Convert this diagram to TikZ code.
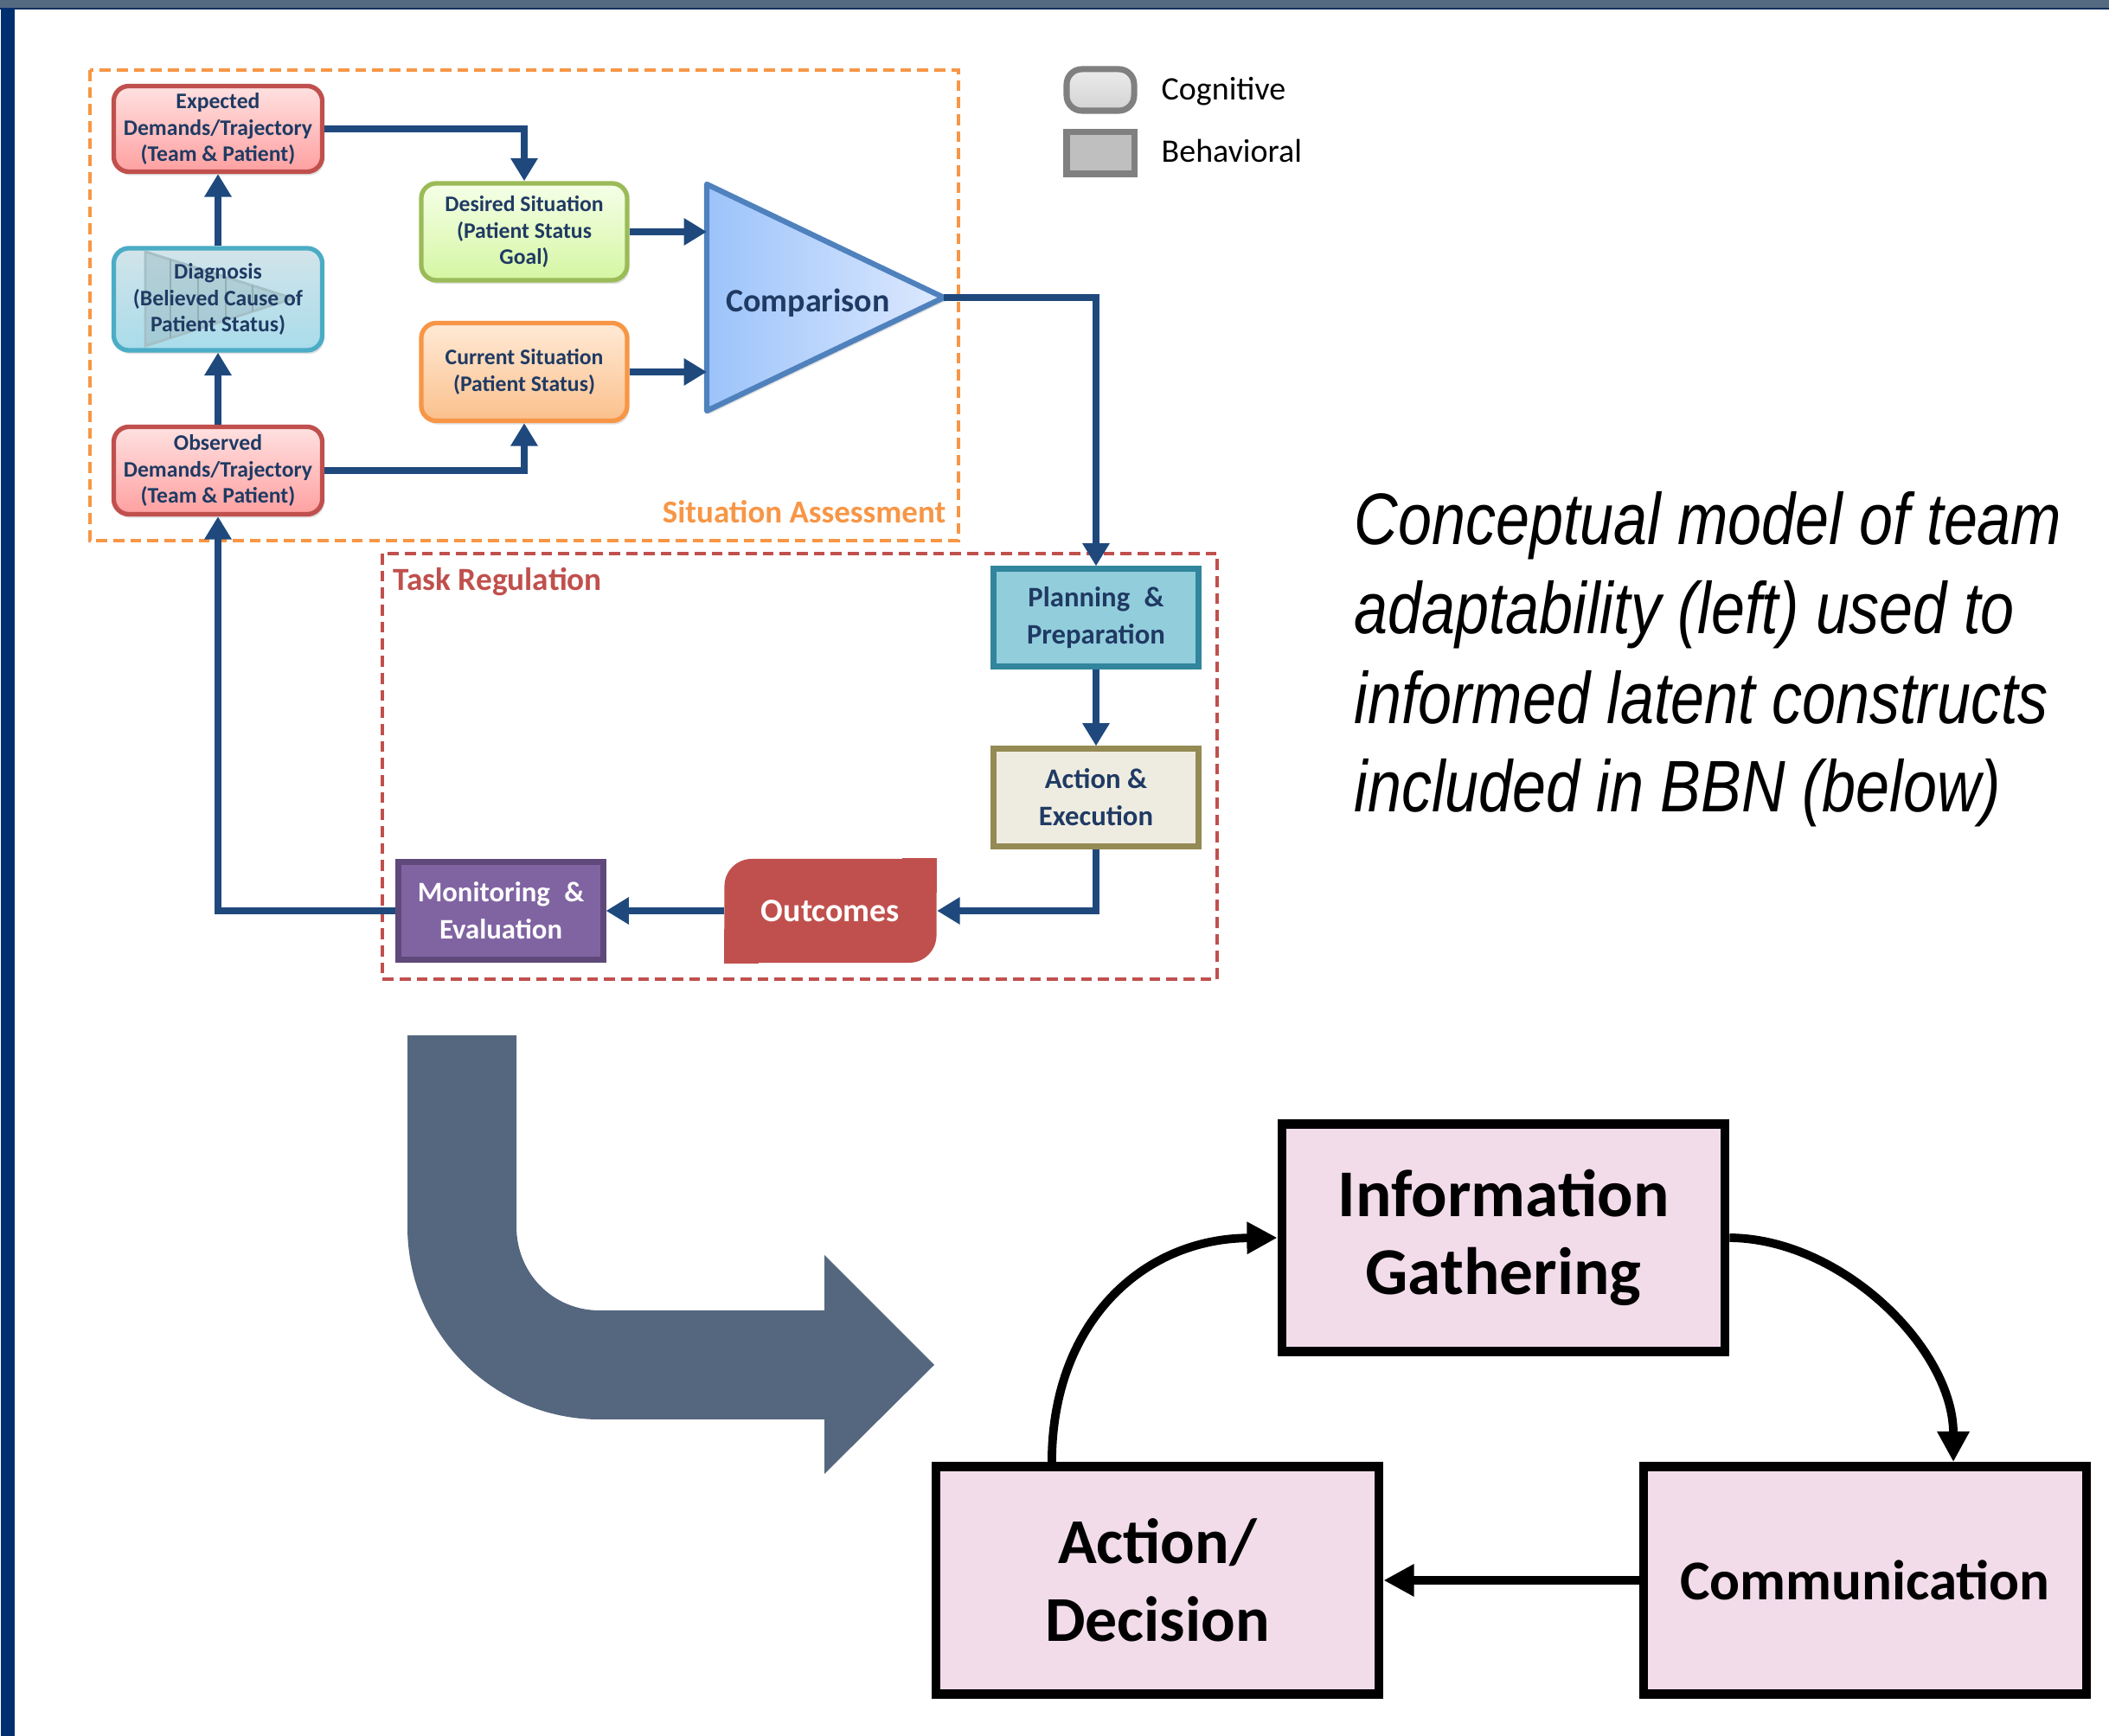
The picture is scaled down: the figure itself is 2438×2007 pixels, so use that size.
\documentclass[tikz,border=0pt]{standalone}
\usepackage{fontspec}
\setmainfont{Carlito}
\newfontfamily\capfont[FakeStretch=0.83]{Liberation Sans}
\usepackage{xcolor}
\usepackage{tikz}
\usetikzlibrary{calc,arrows.meta,shadows}
\definecolor{band}{HTML}{546A80}
\definecolor{bandline}{HTML}{14305E}
\definecolor{sidebar}{HTML}{002F6F}
\definecolor{ink}{HTML}{1F3A63}
\definecolor{flow}{HTML}{1F497D}
\definecolor{saorange}{HTML}{F79646}
\definecolor{trred}{HTML}{C0504D}
\definecolor{exptop}{HTML}{FFE1E1}
\definecolor{expbot}{HTML}{FFA0A0}
\definecolor{diagline}{HTML}{4BACC6}
\definecolor{diagtop}{HTML}{D2E4EA}
\definecolor{diagbot}{HTML}{A9DCEA}
\definecolor{desline}{HTML}{9BBB59}
\definecolor{destop}{HTML}{F5FFE8}
\definecolor{desbot}{HTML}{D5F6A2}
\definecolor{curtop}{HTML}{FFEAD6}
\definecolor{curbot}{HTML}{FBC08C}
\definecolor{cmpline}{HTML}{4F81BD}
\definecolor{cmpleft}{HTML}{9CC3FA}
\definecolor{cmpright}{HTML}{DDE9FE}
\definecolor{planfill}{HTML}{92CDDC}
\definecolor{planline}{HTML}{31859C}
\definecolor{actfill}{HTML}{EEECE1}
\definecolor{actline}{HTML}{948A54}
\definecolor{outfill}{HTML}{C0504D}
\definecolor{monfill}{HTML}{8064A2}
\definecolor{monline}{HTML}{5F497A}
\definecolor{bbnpink}{HTML}{F2DCEA}
\definecolor{bigarrow}{HTML}{55677F}
\definecolor{legline}{HTML}{808080}
\tikzset{
  link/.style={draw=flow, line width=2.4pt, -{Triangle[length=7.5pt,width=8.5pt]}},
  cyc/.style={draw=black, line width=2.8pt, -{Triangle[length=10pt,width=10pt]}},
  grp/.style={line width=1.2pt, dash pattern=on 3.6pt off 2pt},
  sabox/.style={rounded corners=5pt, line width=1.5pt, minimum width=2.41cm, inner sep=1pt,
    align=center, text=ink, font=\bfseries\fontsize{7.3}{8.6}\selectfont,
    drop shadow={opacity=0.25,shadow xshift=0.6pt,shadow yshift=-1.2pt}},
  trbox/.style={line width=2pt, minimum width=2.36cm, minimum height=1.12cm, inner sep=1pt,
    align=center, font=\bfseries\fontsize{9.3}{12.2}\selectfont},
  bbnbox/.style={draw=black, fill=bbnpink, line width=3pt, minimum width=5.12cm,
    minimum height=2.63cm, align=center},
  legbox/.style={draw=legline, line width=2pt, minimum width=0.78cm, minimum height=0.48cm},
  legtxt/.style={anchor=base west, inner sep=0pt, font=\fontsize{10.8}{13}\selectfont},
}

\begin{document}
\begin{tikzpicture}[x=0.01cm, y=-0.01cm]
  \useasboundingbox (0,0) rectangle (2438,2007);
  % frame
  \fill[band] (0,0) rectangle (2438,9);
  \fill[bandline] (0,9) rectangle (2438,11);
  \fill[sidebar] (1,9) rectangle (17,2007);

  % groups
  \draw[grp, draw=saorange] (104,81) rectangle (1108,625);
  \node[anchor=base east, inner sep=0pt, text=saorange, font=\bfseries\fontsize{10.5}{12}\selectfont] (salab) at (1094,605) {Situation Assessment};
  \draw[grp, draw=trred] (442,640) rectangle (1407,1132);
  \node[anchor=base west, inner sep=0pt, text=trred, font=\bfseries\fontsize{10.6}{12}\selectfont] (trlab) at (454,683) {Task Regulation};

  % situation assessment
  \node[sabox, draw=trred, top color=exptop, bottom color=expbot, minimum height=0.99cm] (exp) at (252,149) {Expected\\Demands/Trajectory\\(Team \& Patient)};
  \node[sabox, draw=diagline, top color=diagtop, bottom color=diagbot, minimum height=1.18cm] (diag) at (252,346) {};
  \draw[draw=diagline!45!gray!60, fill=gray!40!diagbot, fill opacity=0.45, line width=0.8pt] (168,291) -- (339,345) -- (168,400) -- cycle;
  \foreach \xx in {197,229,261,292}
    \draw[draw=gray!50!diagbot, line width=0.5pt] (\xx,{291+0.316*(\xx-168)}) -- (\xx,{400-0.322*(\xx-168)});
  \node[align=center, text=ink, font=\bfseries\fontsize{7.3}{8.6}\selectfont] (diagtxt) at (diag) {Diagnosis\\(Believed Cause of\\Patient Status)};
  \node[sabox, draw=trred, top color=exptop, bottom color=expbot, minimum height=1.01cm] (obs) at (252,544) {Observed\\Demands/Trajectory\\(Team \& Patient)};
  \node[sabox, draw=desline, top color=destop, bottom color=desbot, minimum width=2.38cm, minimum height=1.12cm] (des) at (606,268) {Desired Situation\\(Patient Status\\Goal)};
  \node[sabox, draw=saorange, top color=curtop, bottom color=curbot, minimum width=2.38cm, minimum height=1.13cm] (cur) at (606,430) {Current Situation\\(Patient Status)};

  \coordinate (cmptop) at (817,213);
  \coordinate (cmpbot) at (817,475);
  \coordinate (cmptip) at (1091,344);
  \coordinate (cmpin1) at (817,268);
  \coordinate (cmpin2) at (817,430);
  \shadedraw[draw=cmpline, line width=1.8pt, line join=round, left color=cmpleft, right color=cmpright,
    drop shadow={opacity=0.25,shadow xshift=0.6pt,shadow yshift=-1.2pt}] (cmptop) -- (cmptip) -- (cmpbot) -- cycle;
  \node[text=ink, font=\bfseries\fontsize{10.8}{13}\selectfont] (cmp) at (934,350) {Comparison};

  % task regulation
  \node[trbox, draw=planline, fill=planfill, text=ink] (plan) at (1267,714) {Planning\enspace\&\\Preparation};
  \node[trbox, draw=actline, fill=actfill, text=ink] (act) at (1267,922) {Action \&\\Execution};
  \node[fill=outfill, rounded corners=9pt, minimum width=2.45cm, minimum height=1.2cm, text=white,
    font=\bfseries\fontsize{10.8}{13}\selectfont] (out) at (960,1053) {Outcomes};
  \fill[outfill] (out.north east) rectangle ([xshift=-0.4cm,yshift=-0.4cm]out.north east);
  \fill[outfill] (out.south west) rectangle ([xshift=0.4cm,yshift=0.4cm]out.south west);
  \node[trbox, draw=monline, fill=monfill, text=white] (mon) at (579,1053) {Monitoring\enspace\&\\Evaluation};

  \draw[link] (diag.north) -- (exp.south);
  \draw[link] (obs.north) -- (diag.south);
  \draw[link] (exp.east) -| (des.north);
  \draw[link] (obs.east) -| (cur.south);
  \draw[link] (des.east) -- (cmpin1);
  \draw[link] (cur.east) -- (cmpin2);
  \draw[link] (cmptip) -| (plan.north);
  \draw[link] (plan.south) -- (act.north);
  \draw[link] (act.south) |- (out.east);
  \draw[link] (out.west) -- (mon.east);
  \draw[link] (mon.west) -| (obs.south);

  % legend
  \node[legbox, rounded corners=5pt, top color=gray!15, bottom color=gray!35] (cog) at (1272,104) {};
  \node[legbox, fill=gray!50] (beh) at (1272,177) {};
  \node[legtxt] (cogtxt) at (1342,116) {Cognitive};
  \node[legtxt] (behtxt) at (1342,188) {Behavioral};

  % caption
  \foreach \ln/\yy in {Conceptual model of team/630, adaptability (left) used to/733,
      informed latent constructs/837, included in BBN (below)/939}
    \node[anchor=base west, inner sep=0pt, font=\capfont\itshape\fontsize{24}{29}\selectfont] at (1565,\yy) {\ln};

  % big bent arrow
  \fill[bigarrow] (471,1197) -- (471,1418) .. controls (471,1541) and (570,1641) .. (693,1641)
    -- (953,1641) -- (953,1704) -- (1080,1578) -- (953,1451) -- (953,1515) -- (693,1515)
    .. controls (639,1515) and (597,1472) .. (597,1418) -- (597,1197) -- cycle;

  % BBN constructs
  \node[bbnbox, font=\bfseries\fontsize{22}{25.5}\selectfont] (info) at (1738,1431) {Information\\Gathering};
  \node[bbnbox, font=\bfseries\fontsize{21}{25.5}\selectfont] (ad) at (1338,1827) {Action/\\Decision};
  \node[bbnbox, font=\bfseries\fontsize{18.5}{22}\selectfont] (com) at (2156,1827) {Communication};

  \draw[cyc] ([xshift=-1.22cm]ad.north) .. controls (1216,1530) and (1320,1432) .. (info.west);
  \draw[cyc] (info.east) .. controls (2130,1432) and (2258,1560) .. ([xshift=1.02cm]com.north);
  \draw[cyc] (com.west) -- (ad.east);
\end{tikzpicture}
\end{document}
